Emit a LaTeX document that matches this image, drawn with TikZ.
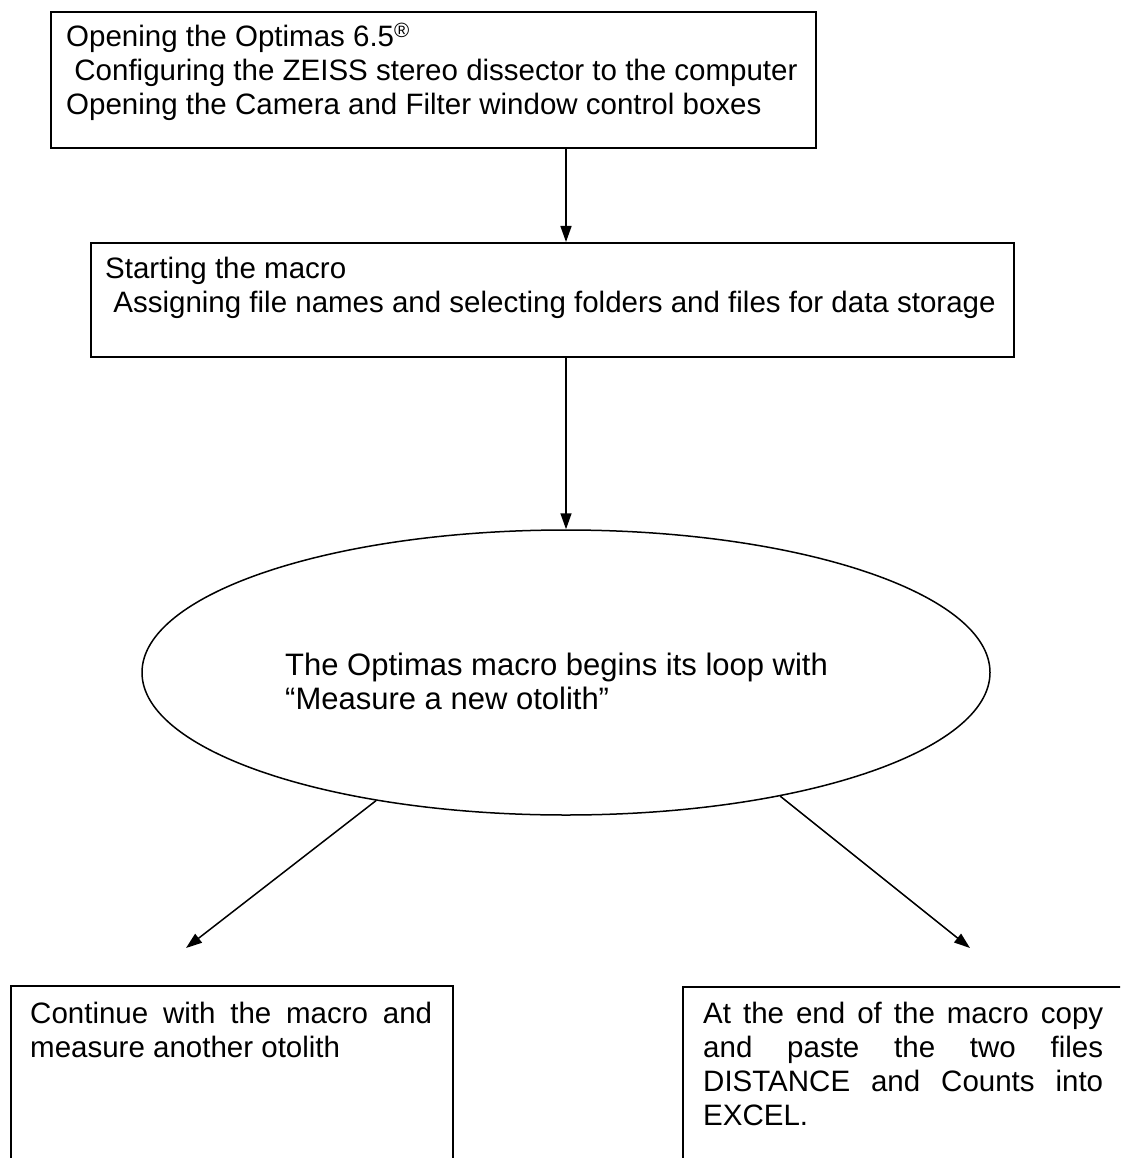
\documentclass[tikz,border=0pt]{standalone}
\usepackage{fontspec}
\setmainfont{Liberation Sans}
\usetikzlibrary{arrows.meta,shapes.geometric}
\hyphenpenalty=10000
\exhyphenpenalty=10000
\tolerance=9999
\begin{document}
\begin{tikzpicture}[x=1pt,y=-1pt,
  box/.style={draw, line width=1.8pt, rectangle, inner sep=0pt, anchor=north west},
  txt/.style={anchor=north west, inner sep=0pt, align=left, font=\fontsize{29.5}{34}\selectfont},
  jtxt/.style={anchor=north west, inner sep=0pt, text width=#1, align=justify, font=\fontsize{29.5}{34}\selectfont},
  conn/.style={line width=1.5pt, -{Triangle[length=16pt,width=11pt]}}
]
\useasboundingbox (0,0) rectangle (1120,1158);
\clip (0,0) rectangle (1120,1158);
\fill[white] (0,0) rectangle (1120,1158);

% boxes
\node[box, minimum width=765pt, minimum height=136pt] (top) at (50,11) {};
\node[box, minimum width=923pt, minimum height=114pt] (mid) at (90,242) {};
\node[ellipse, draw, line width=1.5pt, minimum width=848pt, minimum height=285pt, inner sep=0pt] (ell) at (566,672.5) {};
\node[box, minimum width=442pt, minimum height=260pt] (bl) at (10,985) {};
\node[box, minimum width=460pt, minimum height=260pt] (br) at (682,986) {};

% texts
\node[txt] (toptxt) at (66,22) {\rule{0pt}{24pt}Opening the Optimas 6.5\smash{\textsuperscript{®}}\\
  \hspace*{.278em}Configuring the ZEISS stereo dissector to the computer\\
  Opening the Camera and Filter window control boxes};
\node[txt] (midtxt) at (105,254) {\rule{0pt}{24pt}Starting the macro\\
  \hspace*{.278em}Assigning file names and selecting folders and files for data storage};
\node[txt, font=\fontsize{31}{34.5}\selectfont] (elltxt) at (285,651) {\rule{0pt}{24pt}The Optimas macro begins its loop with\\
  “Measure a new otolith”};
\node[jtxt=402pt] (bltxt) at (30,999) {\noindent\rule{0pt}{24pt}Continue with the macro and\linebreak measure another otolith};
\node[jtxt=400pt] (brtxt) at (703,999) {\noindent\rule{0pt}{24pt}At the end of the macro copy\linebreak and paste the two files\linebreak DISTANCE and Counts into\linebreak EXCEL.};

% connectors
\coordinate (tipl) at (186,948);
\coordinate (tipr) at (970,948);
\draw[conn] (top.south -| ell.north) -- (mid.north -| ell.north);
\draw[conn] (mid.south -| ell.north) -- (ell.north);
\draw[conn] (ell.214) -- (tipl);
\draw[conn] (ell.330) -- (tipr);
\end{tikzpicture}
\end{document}
